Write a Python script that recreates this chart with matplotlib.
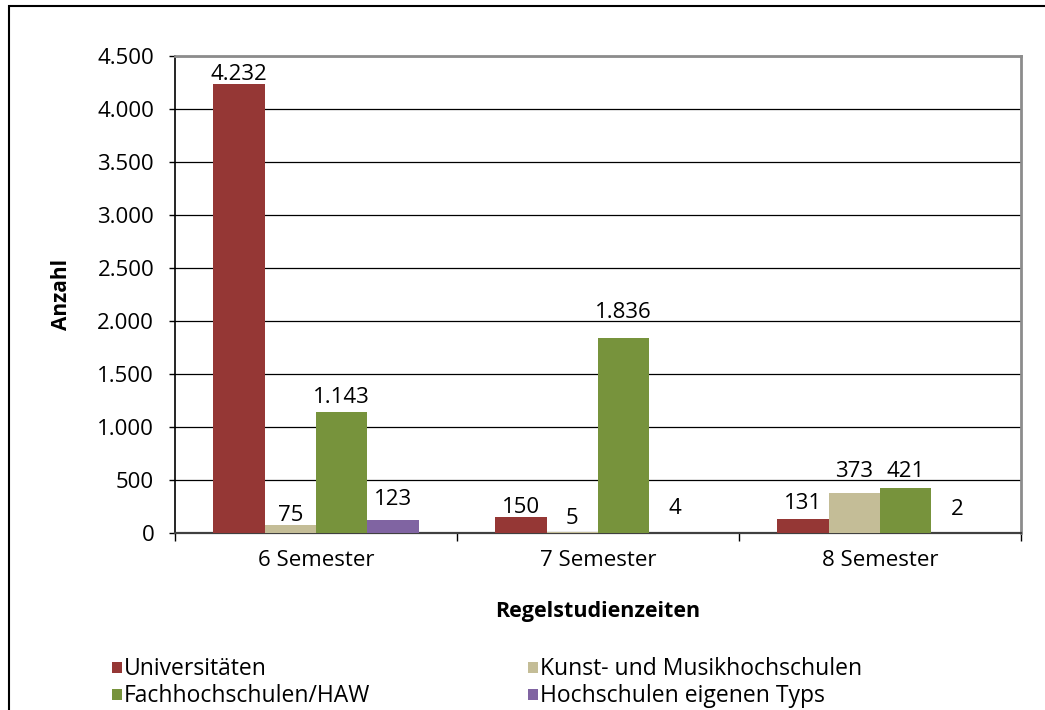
import matplotlib
matplotlib.use("Agg")
import matplotlib.pyplot as plt
from matplotlib.patches import Rectangle
from matplotlib.ticker import FuncFormatter, FixedLocator, MultipleLocator
import numpy as np

categories = ["6 Semester", "7 Semester", "8 Semester"]
series_names = ["Universitäten", "Kunst- und Musikhochschulen",
                "Fachhochschulen/HAW", "Hochschulen eigenen Typs"]
universitaeten = [4232, 150, 131]
kunst_musik = [75, 5, 373]
fachhochschulen = [1143, 1836, 421]
eigenen_typs = [123, 4, 2]
values = [universitaeten, kunst_musik, fachhochschulen, eigenen_typs]
colors = ["#953735", "#C4BD97", "#77933C", "#8064A2"]
# vertical gap (pixels) between bar top and label baseline, per series/category
label_gap_px = [[4, 4, 10], [4, 8, 16], [9, 20, 11], [15, 19, 18]]

plt.rcParams['font.family'] = ['Open Sans', 'DejaVu Sans']

W, H = 1045, 710
fig = plt.figure(figsize=(W / 100, H / 100), dpi=100)

# outer frame
fig.add_artist(Rectangle((9 / W, -0.05), 1.2, 1 - 6 / H + 0.05,
                         transform=fig.transFigure, fill=False,
                         edgecolor="black", linewidth=1.5))

ax = fig.add_axes([175 / W, 1 - 533 / H, 846 / W, (533 - 56) / H])

fs = 16
bw = 0.182
x = np.arange(len(categories))
for i, (vals, col) in enumerate(zip(values, colors)):
    xs = x + (i - 1.5) * bw
    bars = ax.bar(xs, vals, width=bw, color=col, zorder=3)
    for j, (b, v) in enumerate(zip(bars, vals)):
        ax.annotate(f"{v:,}".replace(",", "."),
                    (b.get_x() + b.get_width() / 2, v),
                    xytext=(0, label_gap_px[i][j]), textcoords="offset pixels",
                    ha="center", va="baseline", fontsize=fs, zorder=4)

ax.set_xlim(-0.5, 2.5)
ax.set_ylim(0, 4500)
ax.yaxis.set_major_locator(MultipleLocator(500))
ax.yaxis.set_major_formatter(FuncFormatter(lambda v, p: f"{int(v):,}".replace(",", ".")))
ax.grid(axis="y", color="black", linewidth=0.9, zorder=1)
ax.set_xticks(x)
ax.set_xticklabels(categories)
ax.xaxis.set_minor_locator(FixedLocator([-0.5, 0.5, 1.5, 2.5]))
ax.tick_params(axis="x", which="major", length=0, labelsize=fs, pad=12)
ax.tick_params(axis="x", which="minor", length=6, width=1, color="black")
ax.tick_params(axis="y", length=4, width=1, labelsize=fs, pad=11)

for s in ["top", "right"]:
    ax.spines[s].set_color("#8c8c8c")
    ax.spines[s].set_linewidth(2)
ax.spines["left"].set_color("black")
ax.spines["left"].set_linewidth(1.2)
ax.spines["bottom"].set_color("#404040")
ax.spines["bottom"].set_linewidth(1.6)

ax.set_ylabel("Anzahl", fontsize=15, fontweight="bold")
ax.yaxis.set_label_coords((72 - 175) / 846, 0.5)
fig.text(598 / W, 1 - 612 / H, "Regelstudienzeiten", fontsize=15.5,
         fontweight="bold", ha="center", va="center")

# legend (2 columns, manual placement)
leg_x = [112, 528, 112, 528]
leg_y = [668, 668, 695, 695]
for name, col, lx, ly in zip(series_names, colors, leg_x, leg_y):
    fig.add_artist(Rectangle((lx / W, 1 - (ly + 5) / H), 10 / W, 11 / H,
                             transform=fig.transFigure, facecolor=col,
                             edgecolor="none"))
    fig.text((lx + 12) / W, 1 - (ly + 1) / H, name, fontsize=16.5,
             ha="left", va="center")

fig.savefig("out.png", dpi=100)
